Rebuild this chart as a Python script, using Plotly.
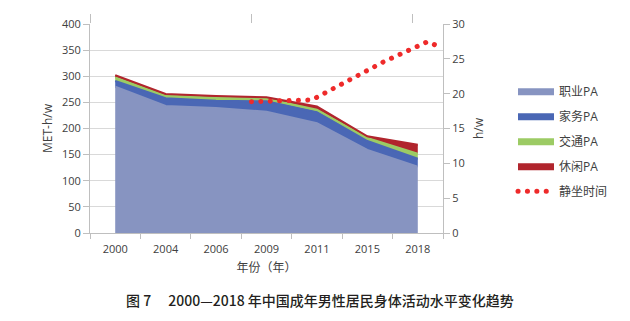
import plotly.graph_objects as go

# ---------------- data ----------------
years = ["2000", "2004", "2006", "2009", "2011", "2015", "2018"]
occupational_pa = [280, 243, 239, 232, 210, 159, 127]
household_pa = [11, 15, 14, 20, 21, 17, 15]
transport_pa = [7, 5, 6, 5, 5, 6, 10]
leisure_pa = [4, 3, 3, 3, 6, 3, 17]

# sedentary time (h/w), drawn on a secondary category-position axis (0..35)
sed_pos = [16, 22, 29.15, 33.45, 34.3]
sed_hours = [18.85, 19.1, 24.6, 27.45, 26.95]

names = ["职业PA", "家务PA", "交通PA", "休闲PA"]
colors = ["#8794C1", "#4A67B5", "#9CCB64", "#B1252D"]
series = [occupational_pa, household_pa, transport_pa, leisure_pa]

FONT = "Open Sans, Noto Sans CJK SC, sans-serif"
GRID = "#D9D9D9"
AXC = "#BFBFBF"
TXT = "#404040"

fig = go.Figure()
for i, (nm, col, vals) in enumerate(zip(names, colors, series)):
    fig.add_trace(go.Scatter(
        x=years, y=vals, name=nm, stackgroup="pa", mode="lines",
        line=dict(color=col, width=2), fillcolor=col,
        legendgroup=f"g{i}", hoverinfo="skip"))

fig.add_trace(go.Scatter(
    x=sed_pos, y=sed_hours, name="静坐时间", mode="lines",
    xaxis="x2", yaxis="y2", legendgroup="g4",
    line=dict(color="#EE2A2A", width=5, dash="0.1px,9.3px"), hoverinfo="skip"))

fig.update_layout(
    width=630, height=321,
    margin=dict(l=90, r=187, t=24, b=88),
    paper_bgcolor="white", plot_bgcolor="white",
    font=dict(family=FONT, size=11, color=TXT),
    showlegend=True,
    legend=dict(x=(513 - 90) / 353, xanchor="left", y=0.748, yanchor="top",
                traceorder="grouped", tracegroupgap=6, itemwidth=36,
                font=dict(size=12, color=TXT), bgcolor="rgba(0,0,0,0)"),
    xaxis=dict(type="category", categoryorder="array", categoryarray=years,
               range=[-0.5, 6.5], tickson="boundaries", ticks="outside",
               ticklen=5, tickcolor=AXC, showline=True, linecolor=AXC,
               showgrid=False, tickfont=dict(size=11, color=TXT),
               ticklabelstandoff=6,
               title=dict(text="年份（年）", font=dict(size=12, color=TXT), standoff=8)),
    xaxis2=dict(overlaying="x", side="top", range=[0, 35], tickvals=[0, 16, 32],
                ticks="outside", ticklen=9, tickcolor=AXC, showticklabels=False,
                showgrid=False, showline=False, zeroline=False),
    yaxis=dict(range=[0, 400], dtick=50, ticks="outside", ticklen=6, tickcolor=AXC,
               showline=True, linecolor=AXC, gridcolor=GRID, zeroline=False,
               tickfont=dict(size=11, color=TXT),
               title=dict(text="MET-h/w", font=dict(size=12, color=TXT), standoff=6)),
    yaxis2=dict(overlaying="y", side="right", range=[0, 30], dtick=5, ticks="outside",
                ticklen=6, tickcolor=AXC, showline=True, linecolor=AXC, showgrid=False,
                zeroline=False, tickfont=dict(size=11, color=TXT),
                title=dict(text="h/w", font=dict(size=12, color=TXT), standoff=10)),
)

fig.add_annotation(
    text="图 7\u3000 2000—2018 年中国成年男性居民身体活动水平变化趋势",
    xref="paper", yref="paper", x=(320 - 90) / 353, y=-(300 - 233) / 209,
    xanchor="center", yanchor="middle", showarrow=False,
    font=dict(family="Noto Sans CJK SC, sans-serif", size=14, color="#231F20",
              weight=500))

post = """
function rc(){document.querySelectorAll('path').forEach(function(p){
  var d = p.style.strokeDasharray || '';
  if (d.indexOf('9.3') >= 0) { p.style.strokeLinecap = 'round'; }
});}
rc(); setTimeout(rc, 30); setTimeout(rc, 300);
var gd = document.getElementById('{plot_id}');
if (gd && gd.on) { gd.on('plotly_afterplot', rc); }
"""
fig.write_html("out.html", post_script=post, config={"displayModeBar": False})
